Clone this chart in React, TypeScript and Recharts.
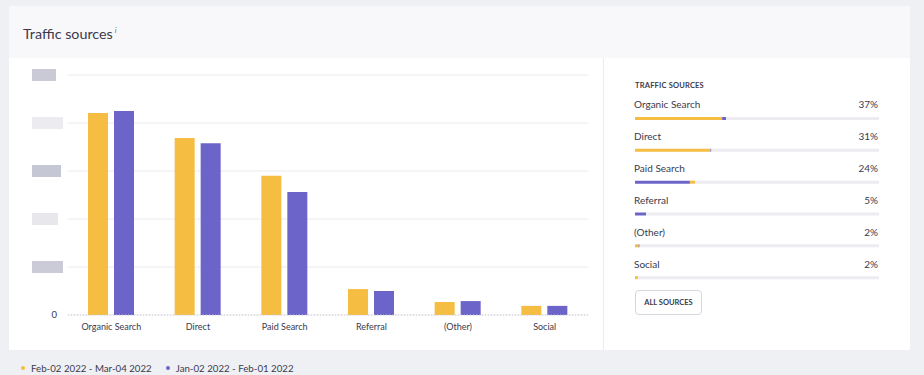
import React from 'react';
import { BarChart, Bar, XAxis, YAxis, CartesianGrid } from 'recharts';

const categories = ['Organic Search', 'Direct', 'Paid Search', 'Referral', '(Other)', 'Social'];
const currentPeriod = [4210, 3690, 2900, 540, 270, 190];
const previousPeriod = [4250, 3580, 2560, 500, 290, 190];
const seriesNames = ['Feb-02 2022 - Mar-04 2022', 'Jan-02 2022 - Feb-01 2022'];
const yTicks = [0, 1000, 2000, 3000, 4000, 5000];

// right panel: share of traffic, split into coloured segments (lead purple, yellow, tail purple)
const shareLabels = ['37%', '31%', '24%', '5%', '2%', '2%'];
const leadPurple = [0, 0, 22.5, 4.5, 0, 0];
const yellowPart = [35.7, 30.9, 2.1, 0, 1.5, 1.2];
const tailPurple = [1.6, 0.4, 0, 0, 0.4, 0];

const YELLOW = '#f5bd42';
const PURPLE = '#6c64c8';
const TEXT = '#3a3a4c';
const FONT = 'Lato, "Noto Sans", sans-serif';

const chartData = categories.map((name, i) => ({
  name,
  current: currentPeriod[i],
  previous: previousPeriod[i],
}));

// the grey track is whatever is left up to 100%
const shareData = categories.map((name, i) => ({
  name,
  lead: leadPurple[i],
  yellow: yellowPart[i],
  tail: tailPurple[i],
  rest: 100 - leadPurple[i] - yellowPart[i] - tailPurple[i],
}));

// tick labels are blurred out in the source, so draw grey blocks instead
const blurred: Record<number, { w: number; fill: string }> = {
  5000: { w: 24, fill: '#c9cad6' },
  4000: { w: 31, fill: '#ececf0' },
  3000: { w: 29, fill: '#c6c7d4' },
  2000: { w: 26, fill: '#e7e7ec' },
  1000: { w: 31, fill: '#cacbd7' },
};

const ValueTick = (props: any) => {
  const { y, payload } = props;
  if (payload.value === 0) {
    return (
      <text x={57} y={y} dy={3} textAnchor="end" fontSize={9.5} fill={TEXT} fontFamily={FONT}>
        0
      </text>
    );
  }
  const b = blurred[payload.value];
  if (!b) return null;
  return <rect x={32} y={y - 6} width={b.w} height={12} fill={b.fill} />;
};

const RowTick = (props: any) => {
  const { y, payload, index } = props;
  return (
    <g fontFamily={FONT} fontSize={10} fill={TEXT}>
      <text x={0} y={y - 14} dy={3.5} textAnchor="start">
        {payload.value}
      </text>
      <text x={244} y={y - 14} dy={3.5} textAnchor="end">
        {shareLabels[index]}
      </text>
    </g>
  );
};

export default function App() {
  return (
    <div
      style={{
        position: 'fixed',
        left: 0,
        top: 0,
        width: 924,
        height: 375,
        background: '#eff0f4',
        fontFamily: FONT,
        color: TEXT,
        overflow: 'hidden',
      }}
    >
      {/* card */}
      <div style={{ position: 'absolute', left: 9, top: 6, width: 901, height: 344, background: '#fff' }} />
      <div style={{ position: 'absolute', left: 9, top: 6, width: 901, height: 52, background: '#f8f8fa' }} />
      <div style={{ position: 'absolute', left: 23, top: 20, fontSize: 14.3, lineHeight: '20px' }}>
        Traffic sources
        <sup style={{ fontSize: 8, fontStyle: 'italic', marginLeft: 2, color: '#777' }}>i</sup>
      </div>
      <div style={{ position: 'absolute', left: 603, top: 58, width: 1, height: 292, background: '#ececf0' }} />

      {/* main chart */}
      <div style={{ position: 'absolute', left: 0, top: 60 }}>
        <BarChart
          width={600}
          height={285}
          data={chartData}
          margin={{ top: 15, right: 12, bottom: 0, left: 0 }}
          barSize={20}
          barGap={6}
        >
          <CartesianGrid vertical={false} stroke="#ebebef" />
          <XAxis
            dataKey="name"
            height={30}
            tickLine={false}
            axisLine={{ stroke: '#c9cad2', strokeDasharray: '1 2' }}
            tick={{ fontSize: 9, fill: TEXT, fontFamily: FONT }}
            tickMargin={3}
            interval={0}
          />
          <YAxis
            width={68}
            domain={[0, 5000]}
            ticks={yTicks}
            axisLine={false}
            tickLine={false}
            tick={<ValueTick />}
          />
          <Bar dataKey="current" name={seriesNames[0]} fill={YELLOW} isAnimationActive={false} />
          <Bar dataKey="previous" name={seriesNames[1]} fill={PURPLE} isAnimationActive={false} />
        </BarChart>
      </div>

      {/* legend */}
      <div style={{ position: 'absolute', left: 21, top: 361, display: 'flex', fontSize: 9.7, lineHeight: '14px' }}>
        {seriesNames.map((n, i) => (
          <div key={n} style={{ display: 'flex', alignItems: 'center', marginRight: 14 }}>
            <span
              style={{
                width: 4,
                height: 4,
                borderRadius: 2,
                background: i === 0 ? YELLOW : PURPLE,
                marginRight: 6,
              }}
            />
            {n}
          </div>
        ))}
      </div>

      {/* right panel */}
      <div style={{ position: 'absolute', left: 635, top: 81, fontSize: 7.5, fontWeight: 700, letterSpacing: 0.2 }}>
        TRAFFIC SOURCES
      </div>
      <div style={{ position: 'absolute', left: 634, top: 89 }}>
        <BarChart
          width={245}
          height={205}
          data={shareData}
          layout="vertical"
          margin={{ top: 14, right: 0, bottom: 0, left: 0 }}
          barSize={3}
        >
          <XAxis type="number" domain={[0, 100]} hide />
          <YAxis
            type="category"
            dataKey="name"
            width={1}
            axisLine={false}
            tickLine={false}
            tick={<RowTick />}
            interval={0}
          />
          <Bar dataKey="lead" stackId="s" fill={PURPLE} isAnimationActive={false} />
          <Bar dataKey="yellow" stackId="s" fill={YELLOW} isAnimationActive={false} />
          <Bar dataKey="tail" stackId="s" fill={PURPLE} isAnimationActive={false} />
          <Bar dataKey="rest" stackId="s" fill="#ececf1" isAnimationActive={false} />
        </BarChart>
      </div>
      <div
        style={{
          position: 'absolute',
          left: 635,
          top: 290,
          width: 65,
          height: 23,
          border: '1px solid #d6d7de',
          borderRadius: 4,
          fontSize: 7.5,
          fontWeight: 700,
          display: 'flex',
          alignItems: 'center',
          justifyContent: 'center',
        }}
      >
        ALL SOURCES
      </div>
    </div>
  );
}
